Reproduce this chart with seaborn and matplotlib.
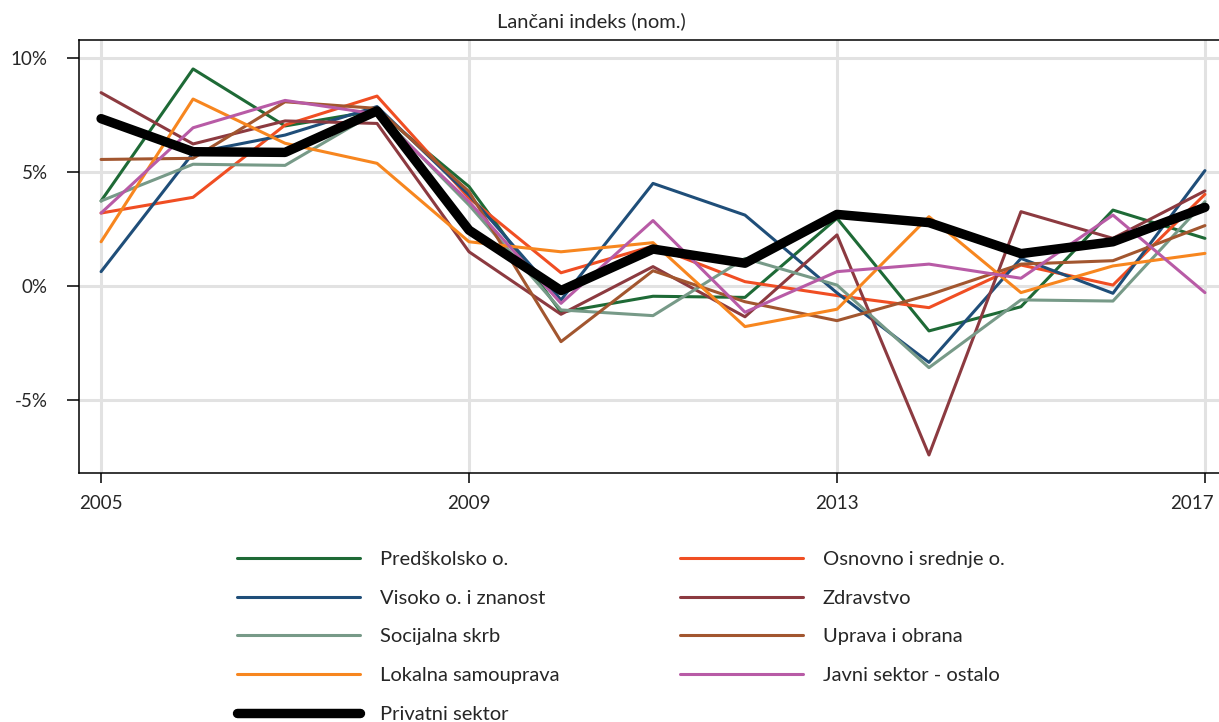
import matplotlib
matplotlib.use("Agg")
import matplotlib.pyplot as plt
import matplotlib.transforms as mtransforms
import seaborn as sns
import pandas as pd

years = list(range(2005, 2018))

predskolsko = [3.73, 9.52, 7.02, 7.70, 4.36, -1.15, -0.45, -0.50, 2.97, -1.97, -0.91, 3.33, 2.09]
osnovno     = [3.20, 3.89, 7.06, 8.33, 3.86, 0.58, 1.75, 0.19, -0.42, -0.95, 0.92, 0.04, 4.02]
visoko      = [0.63, 5.83, 6.62, 7.87, 3.99, -0.61, 4.50, 3.11, -0.30, -3.35, 1.21, -0.32, 5.06]
zdravstvo   = [8.48, 6.23, 7.24, 7.13, 1.50, -1.24, 0.85, -1.35, 2.24, -7.41, 3.26, 2.09, 4.17]
socijalna   = [3.73, 5.34, 5.29, 7.65, 3.55, -1.05, -1.30, 1.21, 0.04, -3.58, -0.61, -0.66, 3.70]
uprava      = [5.55, 5.60, 8.08, 7.79, 4.14, -2.44, 0.67, -0.69, -1.52, -0.39, 0.96, 1.11, 2.65]
lokalna     = [1.94, 8.20, 6.26, 5.38, 1.94, 1.50, 1.90, -1.78, -1.02, 3.04, -0.29, 0.88, 1.43]
javni       = [3.20, 6.94, 8.14, 7.54, 3.70, -0.76, 2.87, -1.15, 0.63, 0.96, 0.34, 3.11, -0.29]
privatni    = [7.34, 5.89, 5.86, 7.68, 2.45, -0.20, 1.62, 1.00, 3.14, 2.78, 1.42, 1.94, 3.45]

labels = ["Predškolsko o.", "Osnovno i srednje o.", "Visoko o. i znanost", "Zdravstvo",
          "Socijalna skrb", "Uprava i obrana", "Lokalna samouprava", "Javni sektor - ostalo",
          "Privatni sektor"]
series = [predskolsko, osnovno, visoko, zdravstvo, socijalna, uprava, lokalna, javni, privatni]
colors = ["#1e6a36", "#f04e23", "#1f4e79", "#8c3a40", "#779a88", "#a2562f", "#f7861f",
          "#b85ba6", "#000000"]

xticks = [2005, 2009, 2013, 2017]
yticks = [-5, 0, 5, 10]
title = "Lančani indeks (nom.)"

sns.set_theme(style="white")
plt.rcParams["font.family"] = ["Lato", "DejaVu Sans"]

fig = plt.figure(figsize=(12.19, 7.22), dpi=100)
W, H = 1219, 722
ax = fig.add_axes([79 / W, (H - 473) / H, (1227 - 79) / W, (473 - 40) / H])

for lab, vals, col in zip(labels, series, colors):
    lw = 6.8 if lab == "Privatni sektor" else 2.2
    df = pd.DataFrame({"year": years, "val": vals})
    sns.lineplot(data=df, x="year", y="val", color=col, linewidth=lw, ax=ax,
                 label=lab, zorder=3)

lines = ax.get_lines()
handles = dict(zip(labels, lines))
if ax.get_legend() is not None:
    ax.get_legend().remove()

ax.set_xlim(2005 - 0.24, 2017 + 0.24)
ax.set_ylim((286 - 473) / 22.8, (286 - 40) / 22.8)
ax.set_xticks(xticks)
ax.set_xticklabels([str(x) for x in xticks])
ax.set_yticks(yticks)
ax.set_yticklabels([f"{v}%" for v in yticks])
ax.set_xlabel("")
ax.set_ylabel("")

ax.grid(True, color="#e2e2e2", linewidth=2.2, zorder=0)
ax.set_axisbelow(True)
for s in ["left", "top", "bottom"]:
    ax.spines[s].set_color("black")
    ax.spines[s].set_linewidth(1.1)
ax.spines["right"].set_visible(False)

ax.tick_params(axis="y", length=8.6, width=1.1, color="black", pad=14,
               labelsize=13.5, left=True)
ax.tick_params(axis="x", length=7, width=1.1, color="black", pad=9,
               labelsize=13.5, bottom=True)

# last x tick label sits right-aligned near the figure edge, as in the reference
last = ax.get_xticklabels()[-1]
last.set_horizontalalignment("right")
last.set_transform(last.get_transform() +
                   mtransforms.ScaledTranslation(9 / 100, 0, fig.dpi_scale_trans))

fig.text(591 / W, 1 - 21 / H, title, ha="center", va="center", fontsize=14.5)

col1 = ["Predškolsko o.", "Visoko o. i znanost", "Socijalna skrb", "Lokalna samouprava",
        "Privatni sektor"]
col2 = ["Osnovno i srednje o.", "Zdravstvo", "Uprava i obrana", "Javni sektor - ostalo"]
common = dict(loc="upper left", frameon=False, fontsize=14.5, handlelength=6.1,
              handletextpad=1.0, labelspacing=1.07, borderpad=0, borderaxespad=0)
leg1 = fig.legend([handles[l] for l in col1], col1,
                  bbox_to_anchor=(237 / W, 1 - 551 / H), **common)
leg2 = fig.legend([handles[l] for l in col2], col2,
                  bbox_to_anchor=(680 / W, 1 - 551 / H), **common)

fig.savefig("out.png", dpi=100)
